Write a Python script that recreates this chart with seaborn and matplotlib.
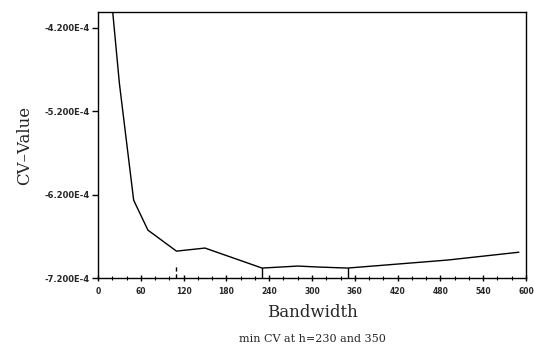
import numpy as np
import pandas as pd
import matplotlib
matplotlib.use("Agg")
import matplotlib.pyplot as plt
import seaborn as sns
from matplotlib.ticker import FixedLocator, MultipleLocator

# Cross-validation score against kernel bandwidth
bandwidth = [20, 30, 50, 70, 110, 150, 230, 280, 310, 350, 420, 490, 590]
cv_value = [-3.95e-4, -4.865e-4, -6.266e-4, -6.625e-4, -6.877e-4, -6.84e-4,
            -7.08e-4, -7.056e-4, -7.068e-4, -7.08e-4, -7.032e-4, -6.984e-4, -6.89e-4]

minima_h = [230, 350]
dashed_h = [110]

x_ticks = [0, 60, 120, 180, 240, 300, 360, 420, 480, 540, 600]
y_ticks = [-7.2e-4, -6.2e-4, -5.2e-4, -4.2e-4]
y_tick_labels = ["-7.200E-4", "-6.200E-4", "-5.200E-4", "-4.200E-4"]

df = pd.DataFrame({"Bandwidth": bandwidth, "CV": cv_value})

sns.set_theme(style="white")
plt.rcParams["font.family"] = ["DejaVu Sans"]

fig = plt.figure(figsize=(5.34, 3.45), dpi=100)
ax = fig.add_axes([0.1835, 0.194, 0.8015, 0.771])

sns.lineplot(data=df, x="Bandwidth", y="CV", color="black", linewidth=1.0, ax=ax)

ax.set_xlim(0, 600)
ax.set_ylim(-7.2e-4, -4.01e-4)

# vertical markers from axis up to the curve
for h in minima_h:
    v = np.interp(h, bandwidth, cv_value)
    ax.plot([h, h], [-7.2e-4, v], color="black", linewidth=1.0)
for h in dashed_h:
    v = np.interp(h, bandwidth, cv_value)
    ax.plot([h, h], [-7.2e-4, v - 0.15e-4], color="black", linewidth=1.0,
            linestyle=(0, (3, 2)))

ax.xaxis.set_major_locator(FixedLocator(x_ticks))
ax.xaxis.set_minor_locator(MultipleLocator(20))
ax.set_xticklabels([str(t) for t in x_ticks], fontsize=5.5, fontweight="bold")
ax.set_yticks(y_ticks)
ax.set_yticklabels(y_tick_labels, fontsize=6, fontweight="bold")

ax.tick_params(axis="x", which="major", direction="inout", length=5, width=1,
               color="black", pad=4, bottom=True)
ax.tick_params(axis="x", which="minor", direction="inout", length=3, width=0.8,
               color="black", bottom=True)
ax.tick_params(axis="y", which="major", direction="out", length=4, width=1,
               color="black", pad=2, left=True)

for s in ax.spines.values():
    s.set_color("black")
    s.set_linewidth(1.0)

ax.set_xlabel("Bandwidth", fontsize=12, family="DejaVu Serif", labelpad=6)
ax.set_ylabel("CV\u2013Value", fontsize=12, family="DejaVu Serif")
ax.yaxis.set_label_coords(-0.151, 0.5)

fig.text(0.585, 0.017, "min CV at h=230 and 350", ha="center", va="center",
         fontsize=8, family="DejaVu Serif")

fig.savefig("out.png", dpi=100, facecolor="white")
